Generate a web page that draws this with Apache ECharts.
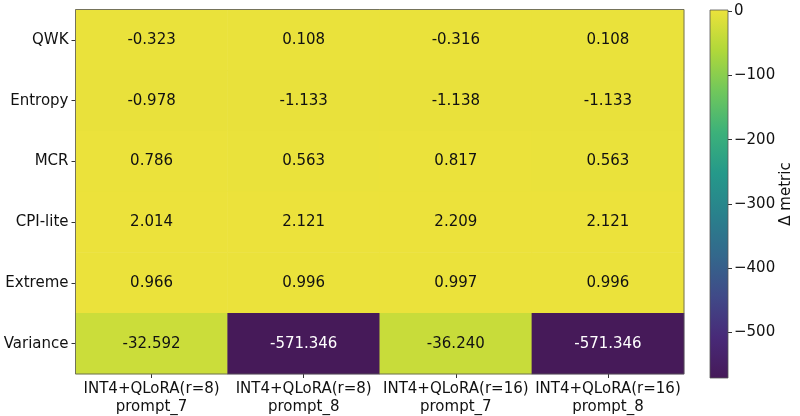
<!DOCTYPE html>
<html>
<head>
<meta charset="utf-8">
<script src="https://cdn.jsdelivr.net/npm/echarts@6/dist/echarts.min.js"></script>
<style>html,body{margin:0;padding:0;background:#fff}#c{width:800px;height:416px}</style>
</head>
<body>
<div id="c"></div>
<script>
const columns = ['INT4+QLoRA(r=8)\nprompt_7', 'INT4+QLoRA(r=8)\nprompt_8', 'INT4+QLoRA(r=16)\nprompt_7', 'INT4+QLoRA(r=16)\nprompt_8'];
const metrics = ['QWK', 'Entropy', 'MCR', 'CPI-lite', 'Extreme', 'Variance'];
const qwk = [-0.323, 0.108, -0.316, 0.108];
const entropy = [-0.978, -1.133, -1.138, -1.133];
const mcr = [0.786, 0.563, 0.817, 0.563];
const cpiLite = [2.014, 2.121, 2.209, 2.121];
const extreme = [0.966, 0.996, 0.997, 0.996];
const variance = [-32.592, -571.346, -36.240, -571.346];
const colorbarTicks = [0, -100, -200, -300, -400, -500];

const rows = [qwk, entropy, mcr, cpiLite, extreme, variance];
const cells = [];
rows.forEach((r, yi) => r.forEach((v, xi) => cells.push([xi, yi, v])));
const all = rows.flat();
const vMin = Math.min(...all), vMax = Math.max(...all);
const viridis = ['#461a59','#482a78','#404a88','#33688c','#29818c','#25998a','#3cb17a','#70c75c','#b0d83a','#ece23b'];
const FONT = 'DejaVu Sans';

const chart = echarts.init(document.getElementById('c'));
chart.setOption({
  animation: false,
  textStyle: { fontFamily: FONT },
  grid: [
    { left: 75.5, top: 9.5, width: 608.5, height: 368.5 },
    { left: 710, top: 10, width: 18, height: 368 }
  ],
  xAxis: [
    { type: 'category', gridIndex: 0, data: columns,
      axisLine: { show: false },
      axisTick: { show: true, alignWithLabel: true, length: 4, interval: 0, lineStyle: { color: '#333' } },
      axisLabel: { color: '#111', fontSize: 15, lineHeight: 18, margin: 6, interval: 0, fontFamily: FONT },
      splitLine: { show: false } },
    { type: 'category', gridIndex: 1, data: [''], show: false }
  ],
  yAxis: [
    { type: 'category', gridIndex: 0, data: metrics, inverse: true,
      axisLine: { show: false },
      axisTick: { show: true, alignWithLabel: true, length: 4, interval: 0, lineStyle: { color: '#333' } },
      axisLabel: { color: '#111', fontSize: 15, margin: 7, interval: 0, fontFamily: FONT },
      splitLine: { show: false } },
    { type: 'value', gridIndex: 1, position: 'right', min: vMin, max: vMax,
      axisLine: { show: false },
      axisTick: { show: true, length: 4, customValues: colorbarTicks, lineStyle: { color: '#333' } },
      axisLabel: { show: true, customValues: colorbarTicks, color: '#111', fontSize: 15, margin: 6, fontFamily: FONT,
        formatter: v => (v < 0 ? '\u2212' + Math.abs(v) : String(v)) },
      splitLine: { show: false },
      name: 'Δ metric', nameLocation: 'middle', nameRotate: 90, nameGap: 50,
      nameTextStyle: { fontSize: 15, color: '#111', fontFamily: FONT } }
  ],
  visualMap: {
    show: false, type: 'continuous', seriesIndex: 0, min: vMin, max: vMax, dimension: 2,
    inRange: { color: viridis }
  },
  series: [
    { type: 'heatmap', xAxisIndex: 0, yAxisIndex: 0, data: cells,
      itemStyle: { borderWidth: 0 },
      label: { show: true, fontSize: 15, fontFamily: FONT,
        formatter: p => (p.value[2] < -300 ? '{w|' : '{d|') + p.value[2].toFixed(3) + '}',
        rich: { w: { color: '#ffffff', fontSize: 15, fontFamily: FONT }, d: { color: '#111111', fontSize: 15, fontFamily: FONT } } },
      emphasis: { disabled: true } },
    { type: 'custom', xAxisIndex: 1, yAxisIndex: 1, data: [[0, vMin, vMax]], silent: true,
      renderItem: (params, api) => {
        const top = api.coord([0, api.value(2)]);
        const bot = api.coord([0, api.value(1)]);
        const cs = params.coordSys;
        const stops = viridis.map((c, i) => ({ offset: 1 - i / (viridis.length - 1), color: c }));
        return { type: 'rect', shape: { x: cs.x, y: top[1], width: cs.width, height: bot[1] - top[1] },
          style: { fill: new echarts.graphic.LinearGradient(0, 0, 0, 1, stops), stroke: '#555', lineWidth: 0.8 } };
      } },
    { type: 'custom', xAxisIndex: 0, yAxisIndex: 0, data: [[0]], silent: true, z: 5,
      renderItem: (params) => {
        const cs = params.coordSys;
        return { type: 'rect', shape: { x: cs.x, y: cs.y, width: cs.width, height: cs.height },
          style: { fill: 'none', stroke: '#555', lineWidth: 0.8 } };
      } }
  ]
});
</script>
</body>
</html>
